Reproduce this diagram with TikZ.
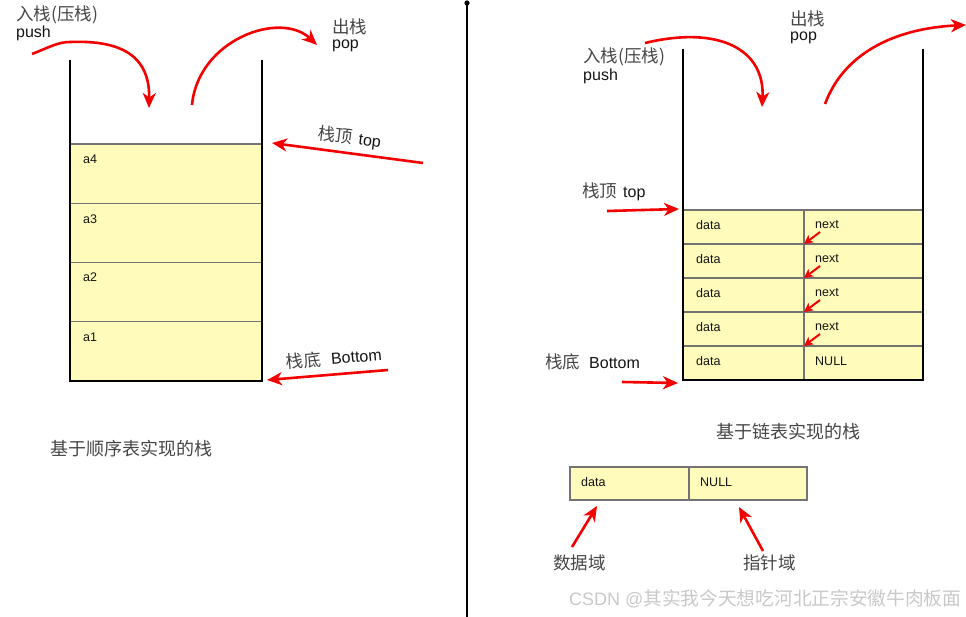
\documentclass[tikz,border=0pt]{standalone}
\usepackage{fontspec}
\setmainfont{Liberation Sans}
\newfontfamily\cjk{Noto Sans CJK SC}
\usetikzlibrary{arrows.meta}
\definecolor{cellfill}{RGB}{255,252,187}
\definecolor{arrred}{RGB}{245,0,0}
\definecolor{cjkgray}{RGB}{70,70,70}
\definecolor{gridgray}{RGB}{115,115,115}
\definecolor{wmgray}{RGB}{200,200,200}
\definecolor{txtblack}{RGB}{20,20,20}
\begin{document}
\begin{tikzpicture}[x=1pt,y=-1pt,
  wall/.style={line width=2.8pt, black, line cap=rect},
  cellbox/.style={draw=gridgray, line width=1.2pt, fill=cellfill, inner sep=0pt, outer sep=0pt},
  celltxt/.style={font=\fontsize{12.5}{13}\selectfont, text=txtblack, inner sep=0pt, anchor=west},
  cjklab/.style={font=\cjk\fontsize{17.5}{18}\selectfont, text=cjkgray, inner sep=0pt, anchor=west},
  caplab/.style={cjklab, font=\cjk\fontsize{18}{18}\selectfont},
  latlab/.style={font=\fontsize{16}{16}\selectfont, text=txtblack, inner sep=0pt, anchor=west},
  mixlab/.style={font=\fontsize{16}{16}\selectfont, text=txtblack, inner sep=0pt, anchor=west},
  redarr/.style={draw=arrred, line width=2.6pt, -{Stealth[length=15pt,width=13pt,inset=4.5pt]}},
  smallarr/.style={draw=arrred, line width=2pt, -{Stealth[length=9pt,width=9pt,inset=2.5pt]}}
]
\useasboundingbox (0,0) rectangle (966,617);

% ---------- divider ----------
\draw[line width=2pt] (467,3) -- (467,617);
\fill (467,3) circle (2.6pt);

% ---------- left stack (sequential) ----------
\node[cellbox, minimum width=192pt, minimum height=59.25pt] (a4) at (166,173.625) {};
\node[cellbox, minimum width=192pt, minimum height=59.25pt] (a3) at (166,232.875) {};
\node[cellbox, minimum width=192pt, minimum height=59.25pt] (a2) at (166,292.125) {};
\node[cellbox, minimum width=192pt, minimum height=59.25pt] (a1) at (166,351.375) {};
\node[celltxt] (ta4) at (83,159) {a4};
\node[celltxt] (ta3) at (83,219) {a3};
\node[celltxt] (ta2) at (83,277) {a2};
\node[celltxt] (ta1) at (83,337) {a1};
\draw[wall] (70,61) -- (70,381) -- (262,381) -- (262,61);

\node[cjklab] (lpushcn) at (16,15) {入栈(压栈)};
\node[latlab] (lpushen) at (16,33) {push};
\node[cjklab] (lpopcn) at (332,27) {出栈};
\node[latlab] (lpopen) at (332,46) {pop};
\node[mixlab, rotate=-7] (ltop) at (318,134) {\textcolor{cjkgray}{\cjk\fontsize{17.5}{18}\selectfont 栈顶}\hspace{6pt}top};
\node[mixlab, rotate=5] (lbot) at (286,362) {\textcolor{cjkgray}{\cjk\fontsize{17.5}{18}\selectfont 栈底}\hspace{10pt}Bottom};
\node[caplab] (lcap) at (50,449) {基于顺序表实现的栈};

\coordinate (lpushS) at (32,54);
\coordinate (lpushM) at (70,42);
\coordinate (lpushE) at (149,108);
\draw[redarr] (lpushS) .. controls (50,47) and (58,42) .. (lpushM) .. controls (120,40) and (150,55) .. (lpushE);
\coordinate (lpopS) at (192,105);
\coordinate (lpopE) at (317,45);
\draw[redarr] (lpopS) .. controls (198,40) and (280,10) .. (lpopE);
\coordinate (ltopS) at (423,163);
\draw[redarr] (ltopS) -- ([xshift=10pt,yshift=1pt]a4.north east);
\coordinate (lbotS) at (388,370);
\draw[redarr] (lbotS) -- ([xshift=5pt,yshift=1pt]a1.south east);

% ---------- right stack (linked) ----------
\foreach \i/\t in {1/next,2/next,3/next,4/next,5/NULL}{
  \pgfmathsetmacro\yc{210+34*(\i-1)+17}
  \node[cellbox, minimum width=121pt, minimum height=34pt] (d\i) at (743.5,\yc) {};
  \node[cellbox, minimum width=119pt, minimum height=34pt] (n\i) at (863.5,\yc) {};
  \node[celltxt] (dt\i) at ([xshift=13pt,yshift=2pt]d\i.west) {data};
  \node[celltxt] (nt\i) at ([xshift=11pt,yshift=2pt]n\i.west) {\t};
}
\foreach \i in {1,2,3,4}{
  \draw[smallarr] ([xshift=16pt,yshift=12pt]n\i.south west) -- (n\i.south west);
}
\draw[wall] (683,50) -- (683,380) -- (923,380) -- (923,50);

\node[cjklab] (rpushcn) at (583,57) {入栈(压栈)};
\node[latlab] (rpushen) at (583,76) {push};
\node[cjklab] (rpopcn) at (790,19) {出栈};
\node[latlab] (rpopen) at (790,38) {pop};
\node[mixlab] (rtop) at (582,192) {\textcolor{cjkgray}{\cjk\fontsize{17.5}{18}\selectfont 栈顶}\hspace{6pt}top};
\node[mixlab] (rbot) at (545,362) {\textcolor{cjkgray}{\cjk\fontsize{17.5}{18}\selectfont 栈底}\hspace{9pt}Bottom};
\node[caplab] (rcap) at (716,432) {基于链表实现的栈};

\coordinate (rpushS) at (645,43);
\coordinate (rpushE) at (762,107);
\draw[redarr] (rpushS) .. controls (720,25) and (765,50) .. (rpushE);
\coordinate (rpopS) at (825,104);
\coordinate (rpopE) at (966,25);
\draw[redarr] (rpopS) .. controls (845,50) and (900,28) .. (rpopE);
\coordinate (rtopS) at (607,211);
\draw[redarr] (rtopS) -- ([xshift=-4pt,yshift=1pt]d1.north west);
\coordinate (rbotS) at (622,382);
\draw[redarr] (rbotS) -- ([xshift=-5pt,yshift=-3pt]d5.south west);

% ---------- single node ----------
\node[cellbox, minimum width=119pt, minimum height=33pt] (bd) at (629.5,483.5) {};
\node[cellbox, minimum width=118pt, minimum height=33pt] (bn) at (748,483.5) {};
\node[celltxt] (bdt) at ([xshift=11pt,yshift=1.5pt]bd.west) {data};
\node[celltxt] (bnt) at ([xshift=11pt,yshift=1.5pt]bn.west) {NULL};
\node[cjklab] (ldata) at (553,563) {数据域};
\node[cjklab] (lptr) at (743,563) {指针域};
\coordinate (dS) at (572,547);
\coordinate (dE) at (597,506);
\draw[redarr] (dS) -- (dE);
\coordinate (pS) at (763,551);
\coordinate (pE) at (739,507);
\draw[redarr] (pS) -- (pE);

% ---------- watermark ----------
\node[inner sep=0pt, anchor=west, text=wmgray, font=\fontsize{18}{18}\selectfont] (wm) at (569,599) {CSDN @{\cjk\fontsize{18.7}{19}\selectfont 其实我今天想吃河北正宗安徽牛肉板面}};
\end{tikzpicture}
\end{document}
